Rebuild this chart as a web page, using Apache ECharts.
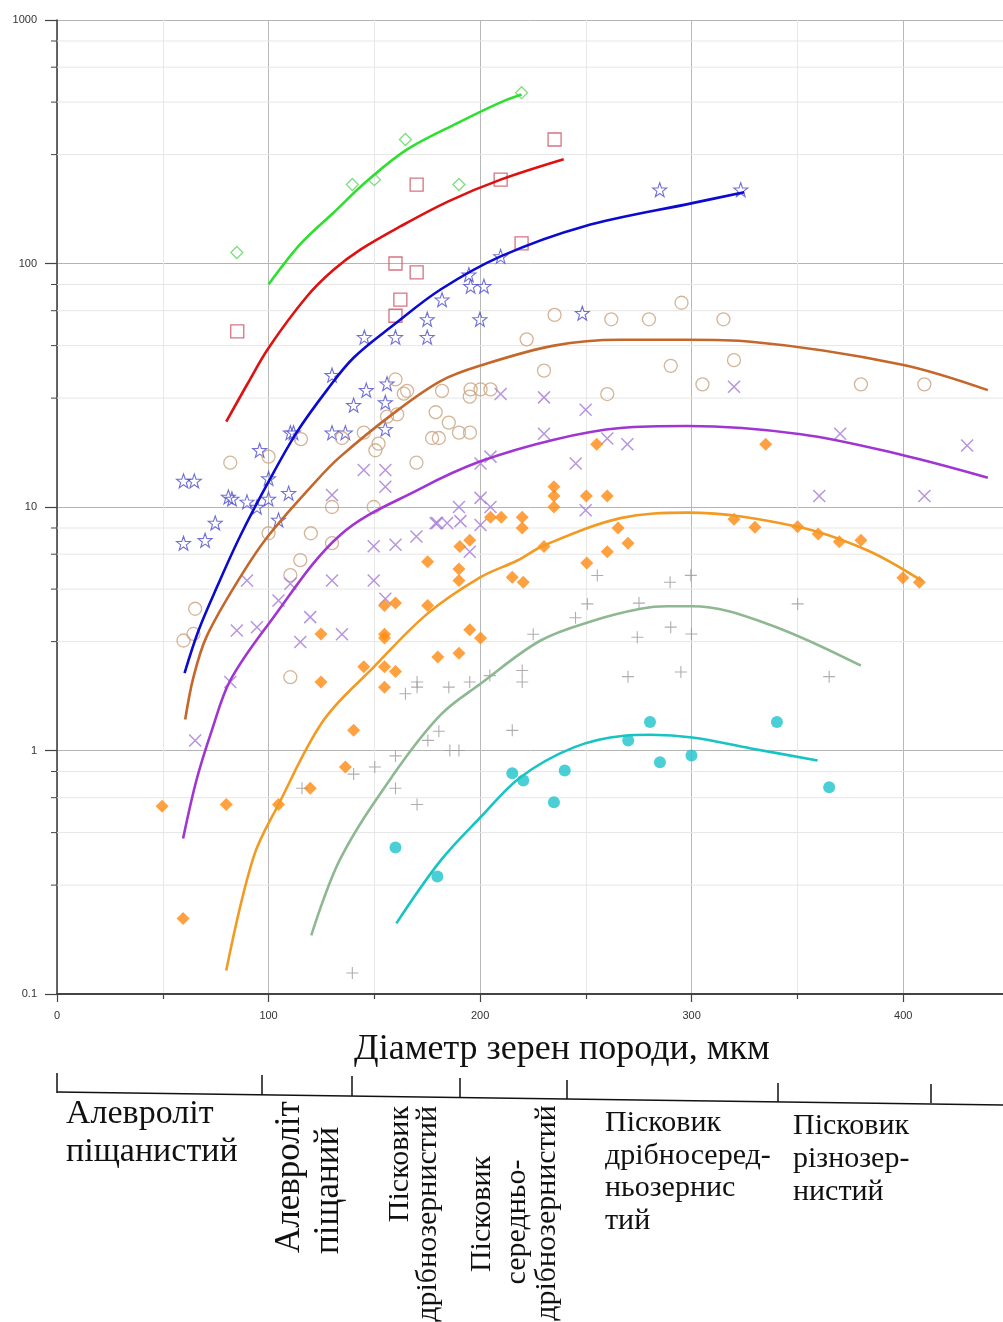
<!DOCTYPE html>
<html><head><meta charset="utf-8">
<script src="https://cdn.jsdelivr.net/npm/echarts@6/dist/echarts.min.js"></script>
<style>html,body{margin:0;padding:0;background:#fff}#c{width:1003px;height:1322px}</style>
</head><body><div id="c"></div>
<script>
// ---------- DATA ----------
const xTickLabels = [0, 100, 200, 300, 400];
const yTickLabels = [0.1, 1, 10, 100, 1000];
const minorGridValues = [0.28,0.46,0.64,0.82, 2.8,4.6,6.4,8.2, 28,46,64,82, 280,460,640,820];

const greenPoints = [[85,111],[139.6,211],[150,221],[164.7,323],[190,211],[219.6,503]];
const greenCurve  = [[100,82],[115,120],[130.8,162],[146.5,218],[165.5,294],[190,380],[209.7,459],[219.6,494]];

const redPoints = [[85.2,52.6],[160,100],[170,92],[162.3,71],[160,61],[170,211],[209.7,221],[235.2,323],[219.6,121]];
const redCurve  = [[80,22.4],[90,32],[100,45],[118,73],[130.6,94],[143.4,114],[162.3,142],[185,180],[209.7,221],[239.5,268]];

const bluePoints = [[284.9,201],[323.2,201],[209.7,107],[194.7,90],[195.5,80.7],[201.8,80.7],[182,71],[248.3,62.5],
  [175,59],[199.9,59],[145.3,49.8],[160,49.8],[175,49.8],[130,34.8],[156,32.1],[146.2,30.2],[140.2,26.2],[155.2,26.9],
  [155.2,20.9],[130,20.2],[136.3,20.2],[110.3,20.2],[111.8,20.2],[95.8,17.1],[59.8,12.8],[64.9,12.8],[81,11.0],[82.7,10.8],
  [89.8,10.5],[94.5,10.0],[100,10.8],[109.5,11.4],[100,13.1],[104.7,8.85],[74.8,8.6],[59.8,7.1],[70,7.3]];
const blueCurve = [[60.3,2.08],[66.9,3.11],[75.6,4.69],[86.6,7.6],[100,12.7],[113.4,20.3],[127.6,30.2],[140.2,41],
  [159.2,56],[181.3,78.2],[209.7,107],[249,142],[300.3,177],[324.8,196]];

const tanPoints = [[130,10],[149.7,10],[100,7.8],[120,7.8],[130,7.1],[115,6.05],[110.3,5.25],[65.3,3.82],[64.5,3.01],
  [59.8,2.83],[110.3,2.0],[81.9,15.2],[100,16.1],[115.3,19],[134.7,19.2],[145,20.2],[152,18.2],[150.5,17.1],[156,23.5],
  [160.8,24],[160,33.4],[163.9,29.2],[165.5,30],[169.9,15.2],[177.3,19.2],[180.5,19.2],[179,24.5],[182,30],[185.2,22.2],
  [190,20.2],[195.2,20.2],[195.5,30.4],[200.2,30.4],[204.9,30.4],[195.1,28.4],[222,48.8],[230.2,36.3],[235.2,61.5],
  [262,59],[260.1,29.1],[279.8,59],[295.2,69],[290.1,38],[305.1,31.9],[315,59],[320,40.1],[380,31.9],[410,31.9]];
const brownCurve = [[60.6,1.34],[64.5,2.0],[70.8,2.95],[86.6,5.15],[100,7.64],[122.9,12.9],[133.9,16.1],[159.2,24.3],
  [181.3,32.9],[200.2,38.1],[234.9,46],[266.4,48.6],[298,48.6],[328,47.7],[399,38.5],[440,30.2]];

const purplePoints = [[130,11.2],[155.2,12.1],[179,8.58],[149.7,6.9],[160,7.0],[169.9,7.56],[89.8,4.99],[110.3,4.84],
  [130,4.99],[149.7,4.99],[155.2,4.2],[104.7,4.13],[119.7,3.53],[85,3.11],[94.5,3.21],[115,2.79],[134.7,3.0],[81.9,1.91],
  [65.3,1.1],[145,14.2],[155.2,14.2],[209.7,29.1],[230.2,28.2],[249.9,25.1],[230.2,20],[260.1,19.1],[269.6,18.1],
  [245.2,15.1],[204.9,16.1],[200.2,15.1],[200.2,10.9],[204.9,10.0],[190,10.0],[249.9,9.7],[179.7,8.6],[184.4,8.6],
  [190.7,8.75],[200.2,8.44],[195.1,6.55],[320,31.2],[370.2,20],[430.2,17.9],[360.3,11.1],[410,11.1]];
const purpleCurve = [[59.6,0.435],[66,0.76],[73.2,1.21],[81.9,1.94],[100,3.31],[133.9,7.68],[171.8,11.9],[200.2,15.4],
  [234.9,18.9],[266.4,21.1],[298,21.5],[351.6,19.9],[399,16.4],[440,13.2]];

const orangePoints = [[49.7,0.59],[80,0.6],[104.7,0.6],[59.6,0.204],[119.7,0.70],[136.3,0.855],[140.2,1.21],[124.8,1.91],
  [124.8,3.01],[145,2.21],[154.8,2.21],[160,2.11],[154.8,1.82],[154.8,3.0],[154.8,2.9],[154.8,3.94],[160,4.03],[175.2,3.94],
  [180,2.42],[190,2.51],[195.1,3.13],[200.2,2.9],[175.2,5.96],[190,5.57],[190,4.99],[215.2,5.15],[220.4,4.91],[250.4,5.89],
  [255.1,18.1],[234.9,12.1],[234.9,11.1],[234.9,10],[250.2,11.1],[260.1,11.1],[204.9,9.07],[210,9.07],[219.9,9.07],
  [219.9,8.2],[265.2,8.2],[269.9,7.1],[230.2,6.88],[260.1,6.55],[195.1,7.3],[190.4,6.88],[335,18.1],[320,8.9],
  [329.9,8.26],[350.1,8.3],[359.8,7.75],[369.8,7.2],[380,7.3],[399.8,5.12],[407.6,4.91]];
const orangeCurve = [[80,0.125],[92.9,0.365],[104.7,0.6],[126,1.33],[149.7,2.2],[175,3.64],[200.2,5.15],[217.6,6.03],
  [230.2,6.95],[266.4,9.0],[298,9.48],[350.1,8.3],[383.2,6.63],[409.2,4.95]];

const plusPoints = [[255.4,5.23],[250.7,4.0],[245.1,3.51],[225.1,3.0],[274.3,2.92],[269.9,2.01],[219.9,2.13],[219.9,1.91],
  [195.1,1.91],[185.2,1.82],[170.2,1.91],[170.2,1.82],[164.7,1.71],[204.6,2.03],[215.2,1.21],[180.5,1.2],[175.3,1.1],
  [185.7,1.0],[190,1.0],[160,0.95],[140.2,0.80],[150.2,0.855],[115.8,0.70],[160,0.70],[170.2,0.6],[139.6,0.122],
  [289.8,4.91],[299.6,5.24],[275.1,4.03],[350.1,4.0],[290.1,3.21],[299.9,3.01],[294.9,2.1],[365,2.01]];
const sageCurve = [[120.2,0.174],[133.9,0.359],[159.2,0.80],[181.3,1.40],[200.2,1.88],[228.6,2.83],[253.8,3.42],
  [275.9,3.82],[288.5,3.91],[300.3,3.91],[335.9,3.31],[380,2.23]];

const cyanPoints = [[160,0.40],[215.2,0.807],[220.4,0.753],[240,0.828],[234.9,0.613],[270,1.1],[179.8,0.304],
  [280.3,1.31],[285,0.895],[299.9,0.954],[340.3,1.31],[365,0.707]];
const cyanCurve = [[160.4,0.195],[181.3,0.353],[200.2,0.532],[219.1,0.777],[244.3,1.03],[268,1.15],[280.6,1.16],
  [300.3,1.13],[328,1.02],[359.5,0.91]];

const axisTitle = 'Діаметр зерен породи, мкм';
const rockLabelsHorizontal = [
  ['Алевроліт', 'піщанистий'],
  ['Пісковик', 'дрібносеред-', 'ньозернис', 'тий'],
  ['Пісковик', 'різнозер-', 'нистий']
];
const rockLabelsVertical = [
  ['Алевроліт', 'піщаний'],
  ['Пісковик', 'дрібнозернистий'],
  ['Пісковик', 'середньо-', 'дрібнозернистий']
];

// ---------- STYLE / LAYOUT ----------
const STAR = 'path://M10,0 L12.35,6.76 L19.51,6.91 L13.8,11.24 L15.88,18.09 L10,14 L4.12,18.09 L6.2,11.24 L0.49,6.91 L7.65,6.76 Z';
const XMARK = 'path://M0,0L10,10M10,0L0,10';
const PLUS = 'path://M5,0L5,10M0,5L10,5';
const SERIF = '"Liberation Serif","Times New Roman",serif';

function scatter(data, symbol, size, color, filled, bw) {
  return {
    type: 'scatter', data, symbol, symbolSize: size, z: 3, silent: true,
    itemStyle: filled ? { color } : { color: 'rgba(0,0,0,0)', borderColor: color, borderWidth: bw || 1.3 }
  };
}
function curve(data, color, w) {
  return {
    type: 'line', data, smooth: 0.35, showSymbol: false, symbol: 'none', z: 4, silent: true,
    lineStyle: { color, width: w || 2.6 }
  };
}

const series = [
  {
    type: 'custom', silent: true, z: 1, clip: false,
    data: minorGridValues.map(v => [0, v]),
    renderItem(params, api) {
      const p = api.coord([0, api.value(1)]);
      const cs = params.coordSys;
      return { type: 'group', children: [
        { type: 'line', shape: { x1: cs.x, y1: p[1], x2: cs.x + cs.width, y2: p[1] }, style: { stroke: '#e6e6e6', lineWidth: 1 } },
        { type: 'line', shape: { x1: cs.x - 6, y1: p[1], x2: cs.x, y2: p[1] }, style: { stroke: '#444', lineWidth: 1 } }
      ]};
    }
  },
  scatter(greenPoints, 'diamond', 12, '#5fd65f', false),
  scatter(redPoints, 'rect', 13, '#cc5060', false),
  scatter(bluePoints, STAR, 14, '#4b4bd0', false, 1.1),
  scatter(tanPoints, 'circle', 13, '#c9a27e', false),
  scatter(purplePoints, XMARK, 12, '#a57ad6', false, 1.5),
  scatter(orangePoints, 'diamond', 13, '#ff8a10', true),
  scatter(plusPoints, PLUS, 12, '#9a9a9a', false, 1.1),
  scatter(cyanPoints, 'circle', 12, '#1dc3cc', true),
  curve(greenCurve, '#2ee02e'),
  curve(redCurve, '#e01010'),
  curve(blueCurve, '#0a0ad0'),
  curve(brownCurve, '#c5672a'),
  curve(purpleCurve, '#a035d2'),
  curve(orangeCurve, '#f29a22'),
  curve(sageCurve, '#8db891'),
  curve(cyanCurve, '#17c4c4')
];

// bottom annotation graphics
const graphics = [];
graphics.push({ type: 'text', x: 562, y: 1050, style: { text: axisTitle, font: '36px ' + SERIF, fill: '#111',
  align: 'center', verticalAlign: 'middle', textAlign: 'center', textVerticalAlign: 'middle' } });
graphics.push({ type: 'line', shape: { x1: 57, y1: 1092, x2: 1003, y2: 1105 }, style: { stroke: '#111', lineWidth: 1.5 } });
const sepTicks = [[57,1073,1093],[262,1075,1095],[352,1076,1096],[460,1078,1098],[567,1080,1099],[778,1083,1102],[931,1084,1103]];
sepTicks.forEach(t => graphics.push({ type: 'line', shape: { x1: t[0], y1: t[1], x2: t[0], y2: t[2] }, style: { stroke: '#111', lineWidth: 1.5 } }));

function htext(lines, x, y0, lh, size) {
  lines.forEach((s, i) => graphics.push({ type: 'text', x, y: y0 + i * lh,
    style: { text: s, font: size + 'px ' + SERIF, fill: '#111', align: 'left', verticalAlign: 'middle', textAlign: 'left', textVerticalAlign: 'middle' } }));
}
function vtext(s, x, y, align, size) {
  graphics.push({ type: 'text', x, y, rotation: Math.PI / 2,
    style: { text: s, font: size + 'px ' + SERIF, fill: '#111', align, verticalAlign: 'middle', textAlign: align, textVerticalAlign: 'middle' } });
}
htext(rockLabelsHorizontal[0], 66, 1114, 38, 34);
htext(rockLabelsHorizontal[1], 605, 1123, 32.7, 30);
htext(rockLabelsHorizontal[2], 793, 1126, 33, 30);
vtext(rockLabelsVertical[0][0], 290, 1253, 'left', 35);
vtext(rockLabelsVertical[0][1], 329, 1254, 'left', 35);
vtext(rockLabelsVertical[1][0], 400, 1106, 'right', 30);
vtext(rockLabelsVertical[1][1], 428, 1106, 'right', 30);
vtext(rockLabelsVertical[2][0], 482, 1214, 'center', 30);
vtext(rockLabelsVertical[2][1], 517, 1222, 'center', 30);
vtext(rockLabelsVertical[2][2], 547, 1213, 'center', 30);

const labelFont = { fontFamily: '"Liberation Sans","DejaVu Sans",sans-serif', fontSize: 11, color: '#333' };

const option = {
  animation: false,
  backgroundColor: '#fff',
  grid: { left: 57, right: -6, top: 20, bottom: 328, containLabel: false, outerBoundsMode: 'none' },
  xAxis: {
    type: 'value', min: 0, max: 450, interval: 100,
    axisLine: { show: true, onZero: false, lineStyle: { color: '#444', width: 2 } },
    axisTick: { show: true, length: 8, lineStyle: { color: '#444', width: 1.2 } },
    minorTick: { show: true, splitNumber: 2, length: 5, lineStyle: { color: '#444', width: 1.2 } },
    axisLabel: Object.assign({ margin: 16, formatter: v => (xTickLabels.indexOf(v) >= 0 ? String(v) : '') }, labelFont),
    splitLine: { show: true, lineStyle: { color: '#b8b8b8', width: 1 } },
    minorSplitLine: { show: true, lineStyle: { color: '#e8e8e8', width: 1 } }
  },
  yAxis: {
    type: 'log', logBase: 10, min: 0.1, max: 1000,
    axisLine: { show: true, lineStyle: { color: '#444', width: 1.6 } },
    axisTick: { show: true, length: 12, lineStyle: { color: '#444', width: 1.2 } },
    axisLabel: Object.assign({ margin: 20, formatter: v => {
      const r = Math.round(v * 1000) / 1000;
      return yTickLabels.indexOf(r) >= 0 ? String(r) : '';
    } }, labelFont),
    splitLine: { show: true, lineStyle: { color: '#b4b4b4', width: 1 } }
  },
  graphic: graphics,
  series
};

const chart = echarts.init(document.getElementById('c'), null, { renderer: 'canvas' });
chart.setOption(option);
</script>
</body></html>
